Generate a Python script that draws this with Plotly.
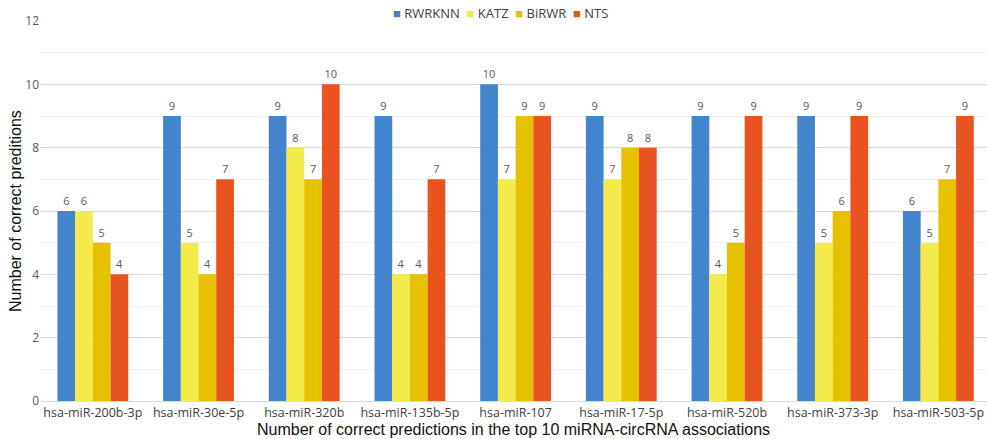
import plotly.graph_objects as go

categories = ["hsa-miR-200b-3p", "hsa-miR-30e-5p", "hsa-miR-320b", "hsa-miR-135b-5p",
              "hsa-miR-107", "hsa-miR-17-5p", "hsa-miR-520b", "hsa-miR-373-3p", "hsa-miR-503-5p"]
rwrknn = [6, 9, 9, 9, 10, 9, 9, 9, 6]
katz = [6, 5, 8, 4, 7, 7, 4, 5, 5]
birwr = [5, 4, 7, 4, 9, 8, 5, 6, 7]
nts = [4, 7, 10, 7, 9, 8, 9, 9, 9]

series = [("RWRKNN", rwrknn, "#4385cc"),
          ("KATZ", katz, "#f4ea4a"),
          ("BiRWR", birwr, "#e6c100"),
          ("NTS", nts, "#e8531f")]

fig = go.Figure()
for name, vals, col in series:
    fig.add_trace(go.Bar(
        x=categories, y=vals, name=name,
        marker=dict(color=col, line=dict(width=0)),
        text=[str(v) for v in vals], textposition="outside",
        textfont=dict(family="Open Sans, Arial", size=11, color="#595959"),
        cliponaxis=False, showlegend=False,
    ))

# compact legend like the reference (coloured squares + names)
legend_html = "&nbsp;&nbsp;".join(
    f"<span style='color:{col}'>■</span> {name}" for name, _, col in series
)
fig.add_annotation(text=legend_html, xref="paper", yref="paper",
                   x=0.486, y=1.0, yanchor="middle", xanchor="center", yshift=8,
                   showarrow=False, borderpad=0,
                   font=dict(family="Open Sans, Arial", size=13, color="#404040"))

# y-axis title placed as a rotated annotation
fig.add_annotation(text="Number of correct preditions", xref="paper", yref="paper",
                   x=0, y=0.5, xanchor="center", yanchor="middle", xshift=-25,
                   textangle=-90, showarrow=False, borderpad=0,
                   font=dict(family="Liberation Sans, Arial", size=16, color="#111111"))

fig.update_layout(
    width=987, height=439,
    margin=dict(l=40, r=0, t=21, b=38),
    paper_bgcolor="white", plot_bgcolor="white",
    barmode="group", bargap=0.33, bargroupgap=0,
    font=dict(family="Open Sans, Arial", color="#595959"),
    showlegend=False,
    xaxis=dict(showgrid=False, showline=True, linecolor="#d9d9d9", linewidth=1,
               tickfont=dict(size=12.5, color="#404040"), ticks="",
               range=[-0.5, 8.46], automargin=False,
               title=dict(text="Number of correct predictions in the top 10 miRNA-circRNA associations",
                          font=dict(family="Liberation Sans, Arial", size=16, color="#111111"),
                          standoff=0)),
    yaxis=dict(range=[0, 12], dtick=2, showgrid=True, gridcolor="#d9d9d9", gridwidth=1,
               minor=dict(dtick=1, showgrid=True, gridcolor="#f0f0f0"),
               zeroline=False, showline=False, ticks="", automargin=False,
               tickfont=dict(size=12, color="#595959")),
)

fig.write_html("out.html", config={"displayModeBar": False},
               post_script="document.body.style.margin='0';")
